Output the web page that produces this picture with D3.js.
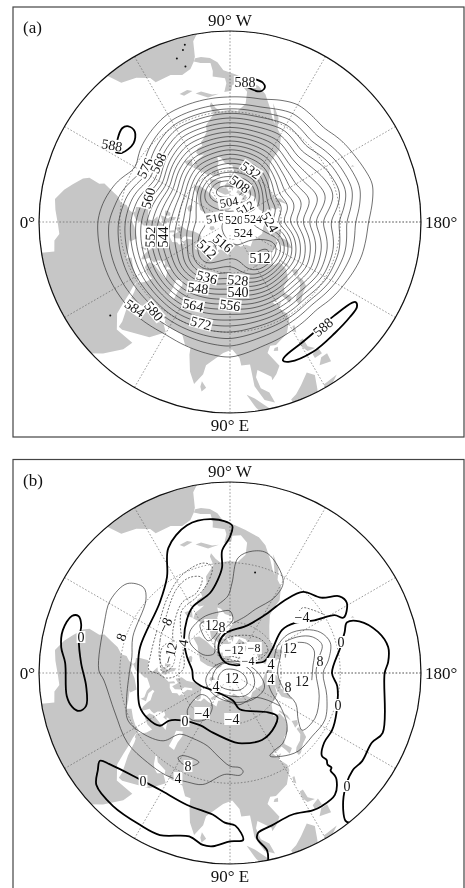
<!DOCTYPE html>
<html>
<head>
<meta charset="utf-8">
<script src="https://cdn.jsdelivr.net/npm/d3@7"></script>
<style>
html, body { margin: 0; padding: 0; background: #fff; }
svg { display: block; will-change: transform; }
text { font-family: "Liberation Serif", serif; fill: #111; }
</style>
</head>
<body>
<svg id="chart" width="465" height="888"></svg>
<script>
// ---- coastlines, [lon, lat] ----
const africa = [[9,-5],[9.5,4],[6,4.5],[4,6.3],[1,6],[-4,5],[-7.5,4.5],[-11,7],[-13.5,9.5],[-16.5,12.5],[-17.5,14.7],[-16.3,19],[-17,21],[-15,24.5],[-13,27.7],[-9.8,30],[-9.3,32.5],[-6.8,34],[-5.5,35.8],[-2,35],[3,36.8],[10,37.2],[11,34],[10,33.8],[15,32.3],[19,30.3],[20,32.5],[25,31.5],[29,31],[32.3,31.2],[32.5,30],[33.8,27],[35.5,24],[37.2,20],[39,15.5],[43,12],[43.5,11.5],[51,11.8],[50,8],[46,2.5],[42,-1.5],[40,-5]];
const eurasia = [[32.5,30],[34.3,31.3],[35.5,33.5],[36,36.5],[32,36],[28,36.5],[27,37.5],[26.5,39.5],[29,41],[31.5,41.2],[36,41.5],[41.5,41.5],[39,44],[37,45],[39,47],[35,46],[36.5,45],[33.5,44.5],[33,46],[30.5,46.5],[28,43.5],[28,41.5],[26,40.8],[24,40.5],[23.5,38],[22.8,36.5],[21,38],[19.5,41],[19,42.5],[15,44.5],[13.5,45.7],[12.3,45],[14,42.5],[18.5,40.2],[17,39],[16,38],[15.8,40],[12,42],[10,44],[7,43.7],[3.2,43],[3,41.8],[0,39.5],[-1.5,37.5],[-5.3,36],[-6.5,37],[-9,37],[-9.4,39],[-8.8,43.2],[-2,43.4],[-1.2,46],[-4.6,48.3],[-1.5,48.6],[1.5,50.8],[4,52],[8,54],[8.5,57],[10.7,57.5],[10,54.5],[14,54],[19,54.5],[21,57],[24,57.5],[23.5,59.3],[30,60],[23,60],[21.5,63],[25,65.5],[22,65.8],[17.5,62],[18.8,59.8],[16.5,56.5],[13,55.5],[11,59],[6,58],[5,61.5],[10,64],[15,68],[20,70],[26,71],[31,70],[41,67],[40,65],[35,64.5],[38,64],[44,66],[44,68.5],[54,68.5],[60,69],[68,68.5],[67,72],[74,73],[80,73],[88,75],[100,77.5],[113,74],[125,73.5],[130,71],[140,72.5],[160,69.7],[170,70],[180,69],[190,66],[178,64.5],[177,62.5],[170,60],[163,59],[162,55],[157,51],[155.5,57],[160,60.5],[164,62.5],[155,59.5],[143,59.5],[135,54.5],[141,53],[140,48],[135,43.5],[130,42.5],[127.5,39.8],[129.5,36],[126.5,34.5],[126,37],[125,39.7],[121.5,39],[118,39],[119,37],[122.5,37],[119.5,35],[122,31],[121.5,28.5],[117,23.5],[110.5,21],[108,21.5],[106,19],[109,13],[107,10.5],[105,8.8],[105,10],[100.5,13.5],[99.5,11],[100.5,7],[103,5],[104,1.5],[101,3],[98.5,8],[98,16],[94.5,16],[94,19],[91,22.5],[87,21],[80.5,15.5],[80,12],[77.5,8],[75,12],[73,18],[72.5,21],[70,21],[67,24.8],[61.5,25],[57,25.8],[56.5,27],[51,28],[48.5,30],[48,29.5],[50,26.5],[51.5,25],[54,24],[56.3,25.5],[59.8,22.5],[55,17.3],[45,12.8],[43.3,12.7],[42.7,15],[39,21],[36,26.5],[34.8,28],[34,28],[33.5,28.5]];
const caspian = [[50,37],[54,37],[53,41],[53,45],[51,47],[47,45],[49,41]];
const northAmerica = [[-77.3,8.5],[-79.5,9.5],[-83,10],[-83.5,13],[-83.2,15],[-88,16],[-88.5,18],[-87.5,21.5],[-90.5,21],[-91,18.6],[-94.5,18.2],[-97.5,21],[-97.5,26],[-94,29.5],[-89.5,29.2],[-85,29.7],[-82.8,27.8],[-81,25.2],[-80.2,26.5],[-81.3,30.5],[-76,35],[-75.5,38],[-72,41],[-70,42],[-70,44],[-66,44.5],[-64,46],[-65,48],[-69,48.5],[-64,49.5],[-60,50],[-56,52],[-62,57.5],[-65,60],[-70,58.5],[-69,61],[-78,62.5],[-77,57],[-79,55],[-79,51.5],[-82,52.5],[-85,55.5],[-92.5,57],[-94.5,60],[-90,63.5],[-87,66],[-82,68],[-81,69.5],[-85,69.5],[-90,68.5],[-95,71.5],[-96,68],[-108,68],[-115,68],[-125,70],[-135,69],[-141,70],[-156,71.2],[-166,68.5],[-161,66.5],[-168,65.5],[-161,64],[-165,62],[-162,59],[-158,58.5],[-163,55],[-155,57.5],[-152,60.5],[-148,60.5],[-140,59.8],[-135,57.5],[-130,54.5],[-124.5,49.5],[-124,46],[-124.3,40.5],[-120.5,34.5],[-117,32.5],[-115,28],[-110,23],[-112,27],[-114.5,31],[-112.5,29.5],[-109.5,25.5],[-105.5,20.5],[-102,18],[-96,16],[-92,14.5],[-87.5,13],[-85.5,10],[-83,8.3],[-80,7.5],[-78,7.5]];
const southAmerica = [[-50,-4],[-50,0],[-52,4.5],[-57,6],[-61,8.5],[-62,10.7],[-68,10.6],[-72,12],[-75.5,10.8],[-77.3,8.5],[-78,7],[-78.5,2],[-80,0],[-81,-4]];
const islands = [
  [[-5.5,50],[1,51.3],[1.5,52.8],[-1,55],[-2,57.5],[-5,58.5],[-5,55],[-3,54],[-4.5,52.5]],
  [[-10,52],[-6,52.2],[-6,55],[-8.5,55],[-10,53.5]],
  [[-24,65],[-22,64],[-18,63.5],[-14,65],[-16,66.5],[-22,66]],
  [[12,78],[18,77],[25,78],[25,80],[15,80]],
  [[52,71],[57,70.7],[60,73],[68,76.5],[62,76],[55,73.5]],
  [[95,79],[105,79],[100,81]],
  [[142,46],[143.5,49],[143,54],[142,54],[142,48]],
  [[130,31.5],[131.5,31.5],[136,34],[140,35],[141.5,38],[141.5,41],[140,41],[139,38],[136,36],[132,35],[130,33.5]],
  [[140,42],[143,42],[145,43.5],[142,45.5],[141,43.5]],
  [[120.2,23],[121,22],[122,25],[121,25.2]],
  [[108.7,19],[110.5,18.5],[111,20],[109.5,20]],
  [[120,16],[120.5,18.5],[122,18.5],[122,15],[124,13],[121,13.5]],
  [[122,7],[126,6],[126.5,9],[124,9]],
  [[122,10],[125,10],[125,12.5],[122,11.5]],
  [[109,1],[111,2],[113.5,4],[117,7],[119,5],[117.7,1],[116,-4],[110,-3]],
  [[95.5,5.5],[98,4],[104,-2],[106,-6],[102,-4],[98,1]],
  [[119.5,-5],[120,1],[125,1.5],[121,-1],[123,-5]],
  [[131,-1],[141,-2.5],[147,-6],[140,-9],[133,-4]],
  [[80,9.5],[81.8,7.5],[80.5,6],[79.8,7.5]],
  [[-85,22],[-80,23],[-75,20.3],[-77.5,20],[-82,22]],
  [[-74,19],[-70,19.8],[-68.5,18.5],[-72,18]],
  [[-59,47.7],[-53,46.8],[-53,49],[-56,51.5],[-58,49]],
  [[-44,60],[-50,62],[-53.5,67],[-55,70],[-60,76],[-70,77],[-73,78.5],[-60,82],[-35,83.5],[-20,82],[-18,76],[-22,71],[-32,68],[-40,65]],
  [[-62,66],[-65,62],[-72,64],[-78,65],[-74,68],[-85,70],[-90,73],[-80,73.5],[-70,71]],
  [[-90,77],[-75,78],[-62,82.5],[-85,83],[-95,80]],
  [[-117,70],[-105,69],[-102,72],[-117,73]],
  [[-125,72],[-118,72],[-117,75],[-125,74.5]],
  [[-112,75],[-95,74.5],[-85,75],[-92,77],[-115,76.5]],
  [[-156,19],[-155,19.5],[-155.5,20.3]]
];
const lakeSpecksA = [[-75.7,2.5],[-74.7,3.9],[-72,6],[-74,9.5],[38,13]];
const lakeSpecksB = [[-104,33]];

// ---- panel (a): 500 hPa height in dagpm, one row per longitude ----
const heightLats = [90,80,70,60,50,40,30,25,20,15,10];
const heightLons = d3.range(-180, 181, 15);
const heightRows = [
  [522,524,526,541,551,563,573,579,583,586,586],
  [522,524,522,533,545,554,565,573,580,584,586],
  [522,520,520,537,549,559,568,576,582,586,586],
  [522,516,512,530,546,561,574,580,585,586,586],
  [522,514,506,522,540,556,570,578,584,586,586],
  [522,513,504,521,538,556,573,583,586,587,586],
  [522,512,505,521,537,555,573,584,586,587,586],
  [522,512,502,522,539,556,574,584,586,586,585],
  [522,514,506,524,540,557,574,584,586,586,585],
  [522,518,512,530,545,563,580,586,587,587,585],
  [522,518,520,535,552,572,586,587,587,586,585],
  [522,518,522,536,549,564,579,584,586,586,585],
  [522,518,524,535,546,560,576,580,585,586,585],
  [522,518,520,532,543,558,575,579,585,586,585],
  [522,519,518,530,541,556,574,579,585,586,585],
  [522,519,512,523,538,554,574,580,585,586,585],
  [522,520,514,520,538,554,572,581,586,586,585],
  [522,520,516,526,540,556,572,580,585,586,585],
  [522,521,518,529,542,558,572,579,584,586,585],
  [522,522,518,522,538,556,574,582,586,587,586],
  [522,522,518,514,535,555,574,584,586,587,586],
  [522,522,518,512,535,555,575,585,586,587,586],
  [522,523,520,515,535,552,570,581,586,586,586],
  [522,524,524,526,542,556,570,578,584,586,586],
  [522,524,526,541,551,563,573,579,583,586,586]
];
const heightLevels = d3.range(508, 588, 4);
const ridge588 = [
  {closed: false, pts: [[-31.3,19.8],[-32.6,22.2],[-39.2,23.8],[-43.5,21],[-43.3,17.7],[-41,16.4],[-36,17.8]]},
  {closed: false, pts: [[-99.9,15.6],[-103.4,16.4],[-104.5,17.9],[-102.9,19.9],[-97.6,19.2]]},
  {closed: true, pts: [[147.5,14],[146.6,15],[137.9,17.5],[122,17.5],[112.2,15.5],[110.9,14.4],[113.2,13],[122.6,12.2],[133.4,12.7],[141.6,12.6],[146.2,12.7]]}
];

// ---- panel (b): height anomaly contours, [lon, lat] ----
const zeroLines = [
  {closed: true, pts: [[-3.5,8.3],[-8.7,6.4],[-14.4,5.8],[-19.8,7.3],[-20.6,9.4],[-17.9,11.4],[-12.3,12],[-3.8,14],[5.2,15.8],[12.9,14.6],[14.1,11.6],[12.1,9.6],[8,8.4]]},
  {closed: true, pts: [[-2,38.5],[-16,37.8],[-45,35],[-56.7,28],[-63.8,17.7],[-73.8,12.3],[-83.7,12],[-90.8,14.6],[-90,19],[-86.3,24.6],[-85.7,32],[-82.6,37.5],[-76,43.3],[-60.7,46.6],[-51,50.5],[-35.7,57],[-20.4,63],[-4.5,67.5],[10.7,68],[23.4,71],[46.6,75.5],[96,73.5],[105,67.8],[134,58],[137.5,53],[130.3,50],[115.5,47.5],[99.7,49],[94,50],[74,54],[60,55],[44.4,51],[38,46],[37,40.7],[28.5,37.5],[20,36.5],[6,38.3]]},
  {closed: true, pts: [[34,11.2],[37.5,13.5],[50,17.8],[59,19],[72,18],[83,16.5],[88,13.8],[92,12.7],[94.5,7.5],[90,7.2],[84.4,5.3],[81,5.3],[76,7.2],[66.6,4.5],[59,4.5],[48.7,4.3],[40,5.2],[36.3,8.7]]},
  {closed: false, pts: [[101.4,-0.5],[101.8,3],[99.3,7.4],[100,9.3],[105.4,10.8],[113.6,12],[121,10],[124.7,9.5],[130.7,9.8],[135,13.5],[135.6,15],[135.9,17.5],[137,18],[136.8,20],[138,21.5],[138,24.2],[143.6,27],[150.6,27],[159.5,28.5],[173,31],[180,33.8],[-167.2,28.8],[-160.4,25],[-156.6,22.6],[-158.2,17.8],[-164.5,12.4],[-170.7,10],[-176,10.6],[180,12],[158.6,8.7],[153.8,10.8],[146.3,10.5],[141.5,11.3],[132.6,7.4],[128,1],[128.7,-0.2]]},
  {closed: true, pts: [[-161,68.4],[-151.3,62],[-140.4,51],[-142.4,43.5],[-148,35],[-151,26],[-154,23],[-149,19],[-145,20],[-140.4,26.5],[-132,30.5],[-127,39],[-122.3,49],[-110.6,60],[-83,66.5],[-70,71],[-61,76.7],[-65.6,83],[-122,84.5],[-158,74]]}
];
const positiveLines = [
  {closed: true, pts: [[-1.3,21],[-21.6,19.4],[-31.3,17.5],[-41,19],[-44.7,25],[-41,29.5],[-20.4,33],[-9.3,35],[-1.7,34.6],[14.7,31.5],[24.7,29],[34.6,31.8],[45.4,37],[50.7,45],[60.4,47],[72.5,46.5],[81.8,42.5],[90,38],[96,37],[97.6,35],[95.7,33.5],[87,34],[76.3,28],[68.6,27],[58.5,25.5],[47.3,25],[34.2,24],[19.2,25],[3.2,23]]},
  {closed: true, pts: [[58.5,35],[60.2,37],[66.5,38],[70.8,37.3],[66.7,34],[62,33.6]]},
  {closed: true, pts: [[41.4,56.8],[36.3,68.3],[48.7,70.5],[62.8,67],[62,59],[49.6,54.7]]},
  {closed: true, pts: [[-45.7,56.5],[-55.5,55],[-66.7,54],[-81,54],[-90,54],[-93,59],[-83.7,63.5],[-65.5,69],[-51,75],[-35.8,72],[-34,66],[-37.8,60]]},
  {closed: true, pts: [[-56,59.5],[-59,56.5],[-67.5,57],[-79,59.5],[-73.7,64.5],[-56,67]]},
  {closed: false, pts: [[-80,50],[-88.5,46],[-91.3,39.5],[-94,27.7],[-100.6,24],[-107.6,23.5],[-120.2,32],[-120.6,40.4],[-111.6,50.6],[-105,56],[-92.3,61]]},
  {closed: true, pts: [[-167,64],[-151,58.5],[-146.3,50],[-150.2,41],[-156,35],[-163.3,32.5],[-172.4,35],[180,38],[166.8,35],[153.7,32],[142.5,33],[131,33],[122,35.6],[115.7,38.5],[120.3,40],[127,40.6],[137,45.5],[146.6,55],[157,64],[180,68]]},
  {closed: true, pts: [[-162,59],[-151.4,55],[-152,46],[-156.3,39.6],[-163,36.5],[-171.6,40],[180,41.5],[165.5,38.5],[152,36.5],[141.6,38.5],[145.3,43],[155.2,48.5],[162.8,57],[180,62]]},
  {closed: false, pts: [[-164.5,56.5],[-154.2,53],[-158.7,43.5],[-164.9,41],[-175.9,43],[175,43.5]]},
  {closed: true, pts: [[22.6,82.3],[-26.6,86],[-153,86],[169,81],[147,78],[120.5,78.3],[83,80],[52.4,80.3]]},
  {closed: true, pts: [[15.5,79],[-38.7,82.3],[-138,82],[-177,77],[152.5,73.7],[125,73.7],[85,76.5],[48.6,76.7]]},
  {closed: true, pts: [[15.6,75],[-30,80.5],[-132,81],[-178,73.7],[156.8,67.8],[129,69.4],[86,73],[49.4,74]]},
  {closed: false, pts: [[72,75],[104,70.5],[135,69.4],[143.9,63],[146.6,55]]}
];
const negativeLines = [
  {closed: true, pts: [[-2,44],[-14.4,43.8],[-32.6,41.8],[-50.8,35.5],[-64,30.5],[-76.2,28.7],[-80.4,31],[-76.3,38],[-66.5,43],[-52.7,45],[-44.4,50],[-26,59.5],[-6,62.5],[3,58.5],[4.5,53],[0,48]]},
  {closed: true, pts: [[-10.5,49],[-25,46],[-34.5,44],[-57.4,35],[-67,33],[-73.6,35],[-67.6,41],[-55.6,42],[-37,49],[-13,56],[-4.4,52]]},
  {closed: true, pts: [[-21,48.5],[-28,52],[-20,56],[-6,56],[-1,51],[-8,49.5]]},
  {closed: false, pts: [[-139,40],[-138,36],[-142.8,32.8],[-148.6,29.5]]},
  {closed: true, pts: [[-56,77],[-81.4,70],[-111.5,66],[-134,63],[-149,64],[-155,72],[-111,82]]},
  {closed: true, pts: [[-76.6,77],[-94,73.7],[-121,69.4],[-140.6,68.6],[-141.3,75],[-107,80]]}
];

// ---- text on the charts ----
const panelNames = ["(a)", "(b)"];
const lonNames = {top: "90° W", bottom: "90° E", left: "0°", right: "180°"};
// offsets from the map centre, rotation in degrees, font size when it is not the usual one
const labelsA = [
  ["588",-118,-77,10],["588",15,-140,0],["588",93,105,-40],["576",-85,-54,-65],["568",-72,-59,-65],["560",-82,-24,-75],
  ["552",-80,15,-88],["544",-67,15,-90],["532",21,-52,35],["508",10,-38,35],["504",-1,-20,-10,12.5],["512",15,-14,-30,12],
  ["516",-15,-4,-10,12],["520",4,-2,0,12],["524",23,-3,0,12],["524",40,0,60],["524",13,11,0,12.5],["516",-7,21,40],["512",-23,27,45],
  ["512",30,36,0],["536",-23,55,15],["528",8,58,5],["548",-32,66,8],["540",8,70,0],["564",-37,83,12],["556",0,83,8],
  ["572",-29,101,15],["584",-95,86,35],["580",-76,89,50]
];
const labelsB = [
  ["0",-149,-36,0],["8",-109,-36,-70],["−8",-65,-48,-65],["−12",-60,-20,-75],["4",-47,-30,-80],["12",-18,-48,0],["8",-8,-46,0],
  ["−12",4,-23,0,12],["−8",24,-25,0,12],["−4",18,-12,0,12],["12",2,5,0],["4",-14,13,0],["4",41,-9,0],["4",41,6,0],["12",60,-25,0],
  ["8",90,-12,0],["−4",72,-56,0],["0",111,-31,0],["8",58,14,0],["12",72,8,0],["0",108,32,0],["0",117,113,0],["−4",-28,40,0],
  ["−4",2,46,0],["0",-45,48,0],["8",-42,93,0],["4",-52,105,0],["0",-87,108,0]
];

// ---- drawing ----
const svg = d3.select("#chart");
const mapRadius = 191;
const panels = [
  {name: panelNames[0], frame: [13, 7, 451, 430], cx: 230, cy: 222, labels: labelsA, specks: lakeSpecksA},
  {name: panelNames[1], frame: [13, 459.5, 451, 440], cx: 230, cy: 673, labels: labelsB, specks: lakeSpecksB}
];

function drawBase(g, p, id) {
  // d3's stereographic gives r = scale * tan(c / 2), so the equator sits on mapRadius
  const projection = d3.geoStereographic()
    .rotate([-90, -90])
    .scale(mapRadius)
    .translate([p.cx, p.cy])
    .clipAngle(120);
  const toLine = (pts, closed) => d3.line()
    .x(d => projection(d)[0])
    .y(d => projection(d)[1])
    .curve(closed ? d3.curveCatmullRomClosed.alpha(0.5) : d3.curveCatmullRom.alpha(0.5))(pts);
  const toPoly = pts => d3.line()
    .x(d => projection(d)[0])
    .y(d => projection(d)[1])(pts) + "Z";

  g.append("rect")
    .attr("x", p.frame[0]).attr("y", p.frame[1])
    .attr("width", p.frame[2]).attr("height", p.frame[3])
    .attr("fill", "none").attr("stroke", "#444").attr("stroke-width", 1.2);

  g.append("clipPath").attr("id", id)
    .append("circle").attr("cx", p.cx).attr("cy", p.cy).attr("r", mapRadius);

  const map = g.append("g").attr("clip-path", `url(#${id})`);
  map.selectAll("path.land")
    .data([africa, eurasia, northAmerica, southAmerica, ...islands])
    .join("path").attr("class", "land")
    .attr("d", toPoly).attr("fill", "#c6c6c6");
  map.append("path").attr("d", toPoly(caspian)).attr("fill", "#fff");
  map.selectAll("circle.speck").data(p.specks).join("circle").attr("class", "speck")
    .attr("cx", d => projection(d)[0]).attr("cy", d => projection(d)[1])
    .attr("r", 1).attr("fill", "#111");

  const graticule = d3.geoGraticule()
    .stepMajor([30, 30]).stepMinor([30, 30])
    .extent([[-180, 0], [180.01, 82]]);
  map.append("path")
    .attr("d", d3.geoPath(projection)(graticule()))
    .attr("fill", "none").attr("stroke", "#555")
    .attr("stroke-width", 0.6).attr("stroke-dasharray", "1.6,1.8");

  return {map, projection, toLine};
}

function drawOverlay(g, p) {
  const labels = g.selectAll("g.lab").data(p.labels).join("g").attr("class", "lab")
    .attr("transform", d => `translate(${p.cx + d[1]},${p.cy + d[2]}) rotate(${d[3]})`);
  labels.append("rect")
    .attr("x", d => -d[0].length * 3.4 - 1).attr("y", -6)
    .attr("width", d => d[0].length * 6.8 + 2).attr("height", 12)
    .attr("fill", "#fff");
  labels.append("text")
    .attr("text-anchor", "middle").attr("dy", "0.35em")
    .style("font-size", d => (d[4] || 14) + "px")
    .text(d => d[0]);

  g.append("circle").attr("cx", p.cx).attr("cy", p.cy).attr("r", mapRadius)
    .attr("fill", "none").attr("stroke", "#111").attr("stroke-width", 1.2);

  const tick = (t, x, y, anchor) => g.append("text")
    .attr("x", x).attr("y", y).attr("text-anchor", anchor)
    .style("font-size", "17px").text(t);
  tick(lonNames.top, p.cx, p.cy - 196, "middle");
  tick(lonNames.bottom, p.cx, p.cy + 209, "middle");
  tick(lonNames.left, p.cx - 195, p.cy + 6, "end");
  tick(lonNames.right, p.cx + 195, p.cy + 6, "start");
  tick(p.name, p.frame[0] + 10, p.frame[1] + 26, "start");
}

// panel a: sample the table onto a plane grid and contour it
function drawHeights(base, p) {
  const cell = 2, size = 210;
  const lonIdx = d3.scaleLinear().domain(d3.extent(heightLons)).range([0, heightLons.length - 1]);
  const latIdx = d3.scaleLinear().domain(heightLats).range(d3.range(heightLats.length)).clamp(true);
  const values = new Float64Array(size * size);
  for (let j = 0; j < size; j++) {
    for (let i = 0; i < size; i++) {
      const [lon, lat] = base.projection.invert([
        p.cx + (i + 0.5 - size / 2) * cell,
        p.cy + (j + 0.5 - size / 2) * cell
      ]);
      const u = lonIdx(lon), v = latIdx(lat);
      const u0 = Math.min(Math.floor(u), heightLons.length - 2), v0 = Math.min(Math.floor(v), heightLats.length - 2);
      const a = u - u0, b = v - v0;
      values[j * size + i] =
        (1 - a) * (1 - b) * heightRows[u0][v0] + a * (1 - b) * heightRows[u0 + 1][v0] +
        (1 - a) * b * heightRows[u0][v0 + 1] + a * b * heightRows[u0 + 1][v0 + 1];
    }
  }
  const field = {data: values, width: size, height: size};
  if (d3.blur2) d3.blur2(field, 2);
  const contours = d3.contours().size([size, size]).thresholds(heightLevels)(field.data);
  const path = d3.geoPath(d3.geoIdentity().scale(cell).translate([p.cx - size, p.cy - size]));
  base.map.selectAll("path.height").data(contours).join("path").attr("class", "height")
    .attr("d", path).attr("fill", "none").attr("stroke", "#333").attr("stroke-width", 0.7);
  base.map.selectAll("path.ridge").data(ridge588).join("path").attr("class", "ridge")
    .attr("d", d => base.toLine(d.pts, d.closed))
    .attr("fill", "none").attr("stroke", "#000").attr("stroke-width", 1.8);
}

function drawAnomalies(base) {
  const draw = (lines, cls, width, color, dash) => base.map.selectAll("path." + cls)
    .data(lines).join("path").attr("class", cls)
    .attr("d", d => base.toLine(d.pts, d.closed))
    .attr("fill", "none").attr("stroke", color).attr("stroke-width", width)
    .attr("stroke-dasharray", dash);
  draw(positiveLines, "pos", 0.7, "#333", null);
  draw(negativeLines, "neg", 0.7, "#333", "2,1.5");
  draw(zeroLines, "zero", 1.8, "#000", null);
}

panels.forEach((p, i) => {
  const g = svg.append("g");
  const base = drawBase(g, p, "map" + i);
  if (i === 0) drawHeights(base, p); else drawAnomalies(base);
  drawOverlay(g, p);
});
</script>
</body>
</html>
